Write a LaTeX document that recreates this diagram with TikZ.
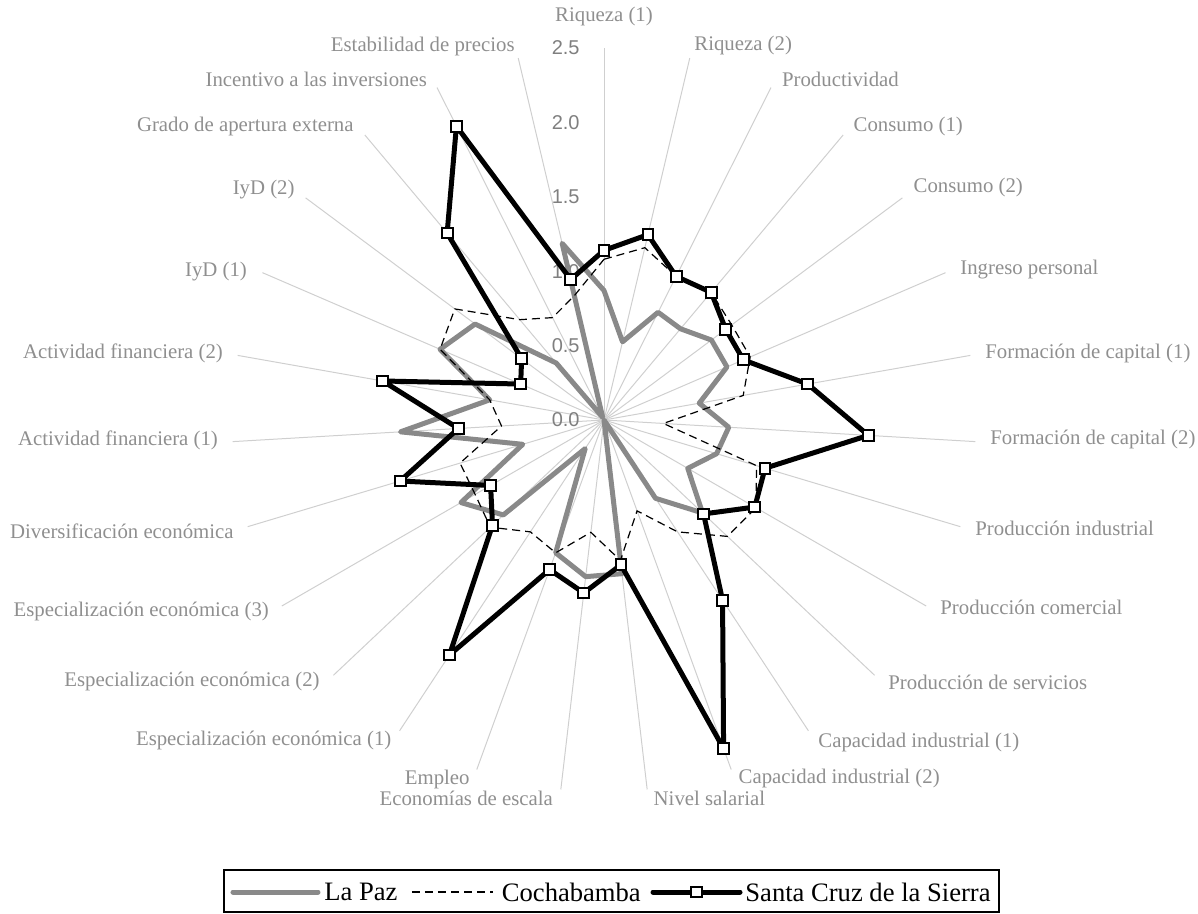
\documentclass[tikz,border=0pt]{standalone}
\usepackage{fontspec}
\usetikzlibrary{calc}
\setmainfont{Liberation Serif}
\newfontfamily\numfont{Liberation Sans}
\definecolor{gridgray}{HTML}{CFCFCF}
\definecolor{labelgray}{HTML}{8F8F8F}
\definecolor{numgray}{HTML}{7F7F7F}
\definecolor{lapazgray}{HTML}{898989}
\begin{document}
\begin{tikzpicture}[x=0.5pt,y=0.5pt,
  spoke/.style={draw=gridgray,line width=0.5pt},
  catlabel/.style={text=labelgray,font=\fontsize{10.4}{12}\selectfont,inner sep=0pt},
  scalelabel/.style={text=numgray,font=\numfont\fontsize{10}{12}\selectfont,inner sep=0pt,anchor=east},
  lapaz/.style={draw=lapazgray,line width=2.5pt,line join=round},
  cocha/.style={draw=black,line width=0.6pt,dash pattern=on 4pt off 2.5pt},
  santacruz/.style={draw=black,line width=2.5pt,line join=round},
  sqmark/.style={rectangle,draw=black,fill=white,line width=1pt,minimum size=5.4pt,inner sep=0pt},
  legendtext/.style={text=black,font=\fontsize{13.3}{15}\selectfont,inner sep=0pt,anchor=west}
]
\useasboundingbox (-604,-494) rectangle (594,420);

% spokes of the radar grid (27 categories, 2.5 = 372 units)
\coordinate (c) at (0,0);
\foreach \k in {0,...,26} {
  \coordinate (ax\k) at ({90-\k*360/27}:372);
  \draw[spoke] (c) -- (ax\k);
}

% radial scale
\foreach \v/\t [count=\n] in {0/0.0,0.5/0.5,1/1.0,1.5/1.5,2/2.0,2.5/2.5}
  \node[scalelabel] (tick\n) at (-24,{\v*148.8}) {\t};

% category labels
\node[catlabel] (l0) at (0,403) {Riqueza (1)};
\node[catlabel,anchor=west] (l1) at (90,374) {Riqueza (2)};
\node[catlabel,anchor=west] (l2) at (177.7,341) {Productividad};
\node[catlabel,anchor=west] (l3) at (249.3,293) {Consumo (1)};
\node[catlabel,anchor=west] (l4) at (309.3,232) {Consumo (2)};
\node[catlabel,anchor=west] (l5) at (356,150) {Ingreso personal};
\node[catlabel,anchor=west] (l6) at (381,67) {Formación de capital (1)};
\node[catlabel,anchor=west] (l7) at (386,-19) {Formación de capital (2)};
\node[catlabel,anchor=west] (l8) at (371,-108) {Producción industrial};
\node[catlabel,anchor=west] (l9) at (336,-187) {Producción comercial};
\node[catlabel,anchor=west] (l10) at (284,-262) {Producción de servicios};
\node[catlabel,anchor=west] (l11) at (214,-322) {Capacidad industrial (1)};
\node[catlabel,anchor=west] (l12) at (134.3,-358) {Capacidad industrial (2)};
\node[catlabel,anchor=west] (l13) at (49.3,-378) {Nivel salarial};
\node[catlabel,anchor=east] (l14) at (-50.7,-378) {Economías de escala};
\node[catlabel,anchor=east] (l15) at (-134,-359) {Empleo};
\node[catlabel,anchor=east] (l16) at (-212.3,-320) {Especialización económica (1)};
\node[catlabel,anchor=east] (l17) at (-284,-261) {Especialización económica (2)};
\node[catlabel,anchor=east] (l18) at (-334.7,-191) {Especialización económica (3)};
\node[catlabel,anchor=east] (l19) at (-370,-111) {Diversificación económica};
\node[catlabel,anchor=east] (l20) at (-385.7,-20) {Actividad financiera (1)};
\node[catlabel,anchor=east] (l21) at (-380.7,67) {Actividad financiera (2)};
\node[catlabel,anchor=east] (l22) at (-356.7,148) {IyD (1)};
\node[catlabel,anchor=east] (l23) at (-309,230) {IyD (2)};
\node[catlabel,anchor=east] (l24) at (-250,293) {Grado de apertura externa};
\node[catlabel,anchor=east] (l25) at (-176.7,341) {Incentivo a las inversiones};
\node[catlabel,anchor=east] (l26) at (-89,373) {Estabilidad de precios};

% series points
\foreach \v [count=\i from 0] in {0.87,0.54,0.81,0.80,0.90,0.90,0.65,0.84,0.79,0.65,0.91,0.63,0.0,1.04,1.06,0.95,0.23,0.93,1.11,0.57,1.37,0.78,1.20,1.08,0.50,0.02,1.22}
  \coordinate (lp\i) at ({90-\i*360/27}:{\v*148.8});
\foreach \v [count=\i from 0] in {1.08,1.19,1.08,1.12,1.07,1.07,0.95,0.40,1.07,1.18,1.14,0.90,0.65,0.95,0.76,0.95,0.90,1.05,1.00,1.01,0.69,0.78,1.20,1.25,0.88,0.77,0.86}
  \coordinate (cb\i) at ({90-\i*360/27}:{\v*148.8});
\foreach \v [count=\i from 0] in {1.14,1.28,1.08,1.12,1.02,1.02,1.39,1.78,1.13,1.17,0.92,1.45,2.35,0.98,1.17,1.07,1.89,1.03,0.88,1.43,0.98,1.51,0.61,0.69,1.64,2.21,0.97}
  \coordinate (sc\i) at ({90-\i*360/27}:{\v*148.8});

% La Paz
\draw[lapaz] (lp0) \foreach \i in {1,...,26} { -- (lp\i) } -- cycle;
% Cochabamba
\draw[cocha] (cb0) \foreach \i in {1,...,26} { -- (cb\i) } -- cycle;
% Santa Cruz de la Sierra
\draw[santacruz] (sc0) \foreach \i in {1,...,26} { -- (sc\i) } -- cycle;
\foreach \i in {0,...,26}
  \node[sqmark] (m\i) at (sc\i) {};

% legend
\coordinate (k1a) at (-371,-472);
\coordinate (k1b) at (-286,-472);
\draw[lapaz,line cap=round] (k1a) -- (k1b);
\node[legendtext] (t1) at (-280,-472) {La Paz};
\coordinate (k2a) at (-192,-472);
\coordinate (k2b) at (-111,-472);
\draw[cocha] (k2a) -- (k2b);
\node[legendtext] (t2) at (-102.5,-472) {Cochabamba};
\coordinate (k3a) at (49,-472);
\coordinate (k3b) at (136,-472);
\draw[santacruz,line cap=round] (k3a) -- (k3b);
\node[sqmark] (k3m) at ($(k3a)!0.5!(k3b)$) {};
\node[legendtext] (t3) at (141,-472) {Santa Cruz de la Sierra};
\coordinate (lgTL) at (-380,-450);
\coordinate (lgB) at (0,-492);
\path (t3.east) ++(8,0) coordinate (lgR);
\draw[black,line width=0.6pt] (lgTL) rectangle (lgR |- lgB);
\end{tikzpicture}
\end{document}
